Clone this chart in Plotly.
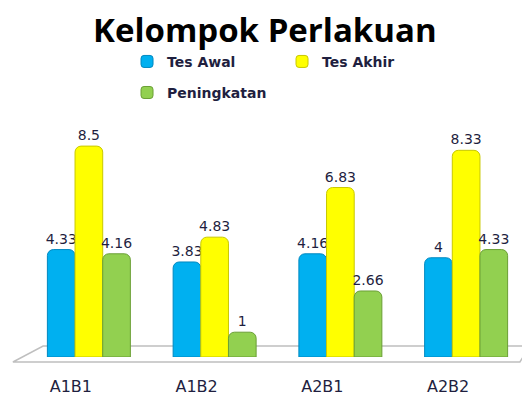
import plotly.graph_objects as go

categories = ["A1B1", "A1B2", "A2B1", "A2B2"]
tes_awal = [4.33, 3.83, 4.16, 4]
tes_akhir = [8.5, 4.83, 6.83, 8.33]
peningkatan = [4.16, 1, 2.66, 4.33]
series = [
    ("Tes Awal", tes_awal, "#00B0F0", "#0088C0", "legend"),
    ("Tes Akhir", tes_akhir, "#FFFF00", "#C8C800", "legend"),
    ("Peningkatan", peningkatan, "#92D050", "#6A9F35", "legend2"),
]

fig = go.Figure()
for name, vals, col, edge, leg in series:
    fig.add_trace(go.Bar(
        x=categories, y=vals, name=name, legend=leg,
        marker=dict(color=col, line=dict(color=edge, width=1), cornerradius=6),
        text=[f"{v:g}" for v in vals], textposition="outside", constraintext="none",
        textfont=dict(family="DejaVu Sans", size=14, color="#1F1F3F"),
        cliponaxis=False,
    ))

# floor
fig.add_shape(type="path", xref="paper", yref="paper",
              path="M -0.026 -0.02 L 0.034 0.044 L 1.002 0.044 L 0.982 -0.02 Z",
              fillcolor="white", line=dict(color="#BFBFBF", width=1.5), layer="below")

legend_font = dict(family="DejaVu Sans", size=14, color="#1F1F3F", weight="bold")
fig.update_layout(
    width=522, height=393,
    margin=dict(l=18, r=1, t=99, b=44),
    paper_bgcolor="white", plot_bgcolor="white",
    title=dict(text="<b>Kelompok Perlakuan</b>", x=0.492, xanchor="center", y=0.944, yanchor="middle",
               font=dict(family="Open Sans", size=33, color="black")),
    barmode="group", bargap=0.34, bargroupgap=0,
    legend=dict(orientation="h", xref="container", yref="container", x=0.228, y=0.863,
                xanchor="left", yanchor="middle", entrywidth=110, entrywidthmode="pixels",
                font=legend_font, itemwidth=30),
    legend2=dict(orientation="h", xref="container", yref="container", x=0.228, y=0.784,
                 xanchor="left", yanchor="middle", font=legend_font, itemwidth=30),
    showlegend=True,
    xaxis=dict(showgrid=False, showline=False, ticks="", ticklabelshift=-18, ticklabelstandoff=18,
               tickfont=dict(family="DejaVu Sans", size=16, color="#1F1F3F")),
    yaxis=dict(range=[0, 10], visible=False, showgrid=False),
)
fig.write_html("out.html")
